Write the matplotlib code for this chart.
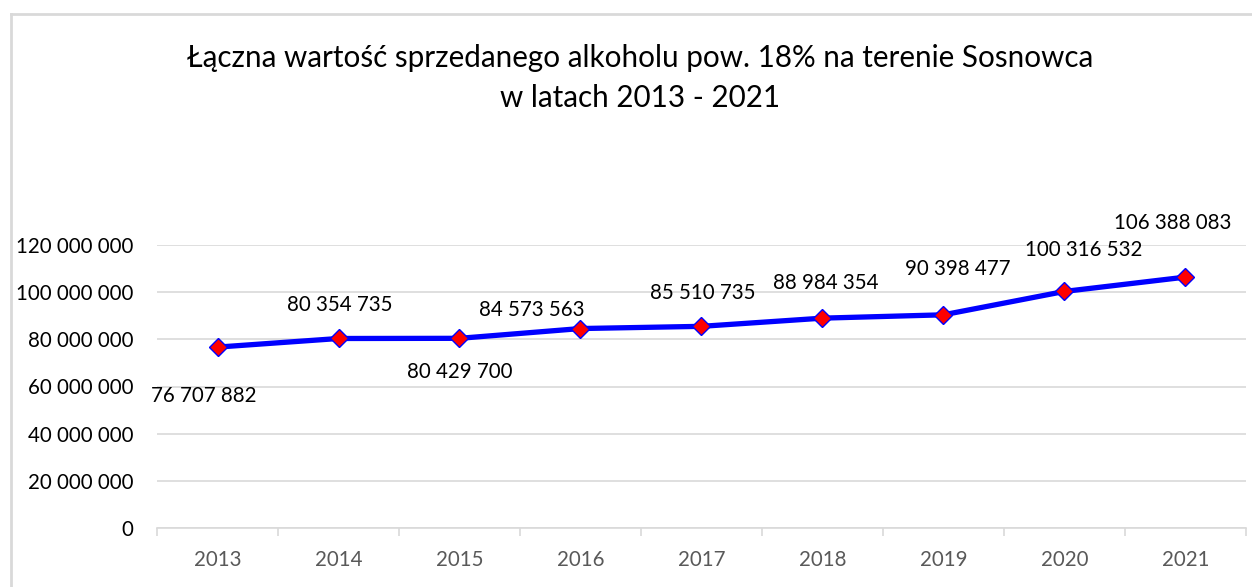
import matplotlib.pyplot as plt
from matplotlib.lines import Line2D
from matplotlib.ticker import FuncFormatter

plt.rcParams['font.family'] = ['Lato', 'DejaVu Sans']

# dane
lata = ['2013', '2014', '2015', '2016', '2017', '2018', '2019', '2020', '2021']
wartosci = [76707882, 80354735, 80429700, 84573563, 85510735,
            88984354, 90398477, 100316532, 106388083]
tytul = 'Łączna wartość sprzedanego alkoholu pow. 18% na terenie Sosnowca\nw latach 2013 - 2021'

# przesuniecia etykiet (punkty)
offsets = [(-10, -35), (1, 24), (0, -24), (-35, 13), (1, 24),
           (2, 25), (10, 33), (14, 30), (-9, 39)]


def fmt(v):
    return f'{int(v):,}'.replace(',', ' ')


fig = plt.figure(figsize=(12.52, 5.87), dpi=100)
ax = fig.add_axes([157 / 1252, 1 - 528 / 587, 1089 / 1252, (528 - 245) / 587])

x = list(range(len(lata)))
ax.plot(x, wartosci, color='#0000ff', lw=3.8, marker='D', markersize=9,
        markerfacecolor='#ff0000', markeredgecolor='#0000ff', markeredgewidth=1,
        zorder=3, clip_on=False)

for xi, v, off in zip(x, wartosci, offsets):
    ax.annotate(fmt(v), (xi, v), xytext=off, textcoords='offset points',
                ha='center', va='center', fontsize=14.8, color='black',
                annotation_clip=False)

ax.set_xlim(-0.5, len(lata) - 0.5)
ax.set_ylim(0, 120000000)
ax.set_yticks(range(0, 120000001, 20000000))
ax.yaxis.set_major_formatter(FuncFormatter(lambda v, p: fmt(v)))
ax.grid(axis='y', color='#d9d9d9', lw=1.2)
ax.set_axisbelow(True)

ax.set_xticks(x)
ax.set_xticklabels(lata)
ax.set_xticks([i - 0.5 for i in range(len(lata) + 1)], minor=True)
ax.tick_params(axis='x', which='major', length=0, pad=16, labelsize=14.8, colors='#595959')
ax.tick_params(axis='x', which='minor', length=6, width=1.2, color='#d9d9d9', direction='out')
ax.tick_params(axis='y', length=0, pad=17, labelsize=14.8, colors='black')

for s in ['top', 'right', 'left']:
    ax.spines[s].set_visible(False)
ax.spines['bottom'].set_color('#d9d9d9')
ax.spines['bottom'].set_linewidth(1.2)

fig.text(0.5115, 1 - 78 / 587, tytul, ha='center', va='center', fontsize=21.3,
         linespacing=1.5, color='black')

# ramka wykresu
fig.add_artist(Line2D([11 / 1252, 11 / 1252], [0, 1 - 14 / 587], color='#d9d9d9', lw=2))
fig.add_artist(Line2D([11 / 1252, 1], [1 - 14 / 587, 1 - 14 / 587], color='#d9d9d9', lw=2))

fig.savefig('out.png', dpi=100)
